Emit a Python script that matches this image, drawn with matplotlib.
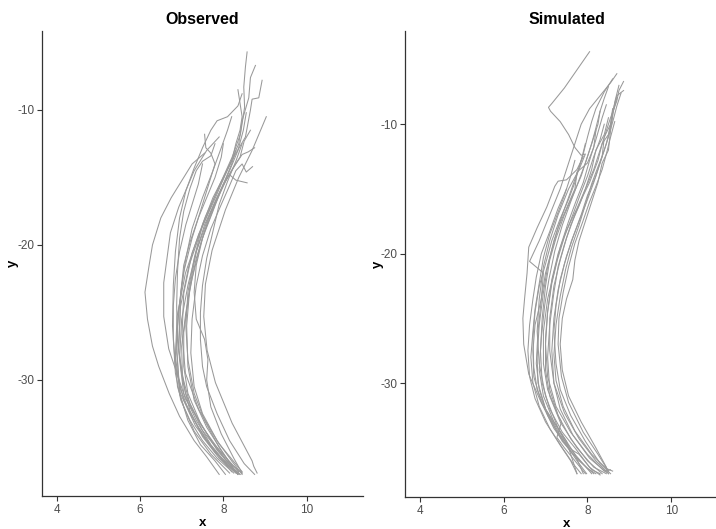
import numpy as np
from matplotlib import pyplot as plt

plt.rcParams['font.family'] = ['Liberation Sans', 'DejaVu Sans']
plt.rcParams['axes.unicode_minus'] = False

# observed tracks, one list per track (x, y)
obs_x = [
    [7.55, 7.25, 7.05, 6.75, 6.5, 6.3, 6.22, 6.12, 6.18, 6.3, 6.45, 6.7, 6.95, 7.3, 7.6, 7.9],
    [7.9, 7.6, 7.3, 6.93, 6.73, 6.57, 6.57, 6.69, 7.09, 7.73, 8.37],
    [9.03, 8.69, 8.37, 8.05, 7.73, 7.57, 7.53, 7.61, 7.81, 8.21, 8.69, 8.73, 8.81],
    [8.57, 8.53, 8.49, 8.51, 8.41, 8.21, 7.89, 7.49, 7.17, 6.97, 6.93, 7.09, 7.49, 8.05, 8.45],
    [8.77, 8.65, 8.61, 8.45, 8.37, 8.13, 7.81, 7.41, 7.09, 6.89, 6.85, 6.97, 7.33, 7.81, 8.37],
    [8.93, 8.85, 8.69, 8.65, 8.53, 8.21, 7.93, 7.57, 7.25, 7.05, 7.01, 7.09, 7.41, 7.89, 8.45],
    [7.55, 7.58, 7.7, 7.8, 7.65, 7.45, 7.25, 7.05, 6.92, 6.88, 6.95, 7.2, 7.6, 8.0, 8.35],
    [8.45, 8.35, 8.1, 7.85, 7.7, 7.5, 7.3, 7.1, 6.95, 6.85, 6.8, 6.78, 6.85, 7.05, 7.4, 7.8, 8.2],
    [8.75, 8.6, 8.45, 8.3, 8.1, 7.85, 7.6, 7.35, 7.2, 7.12, 7.15, 7.3, 7.6, 7.95, 8.3],
    [8.57, 8.3, 8.15, 8.0, 7.8, 7.55, 7.35, 7.15, 7.0, 6.95, 7.05, 7.35, 7.7, 8.1, 8.4],
    [7.8, 7.7, 7.5, 7.35, 7.2, 7.05, 6.95, 6.9, 6.88, 6.9, 7.0, 7.2, 7.5, 7.85, 8.2, 8.35],
    [8.3, 8.2, 8.0, 7.75, 7.5, 7.35, 7.3, 7.35, 7.55, 7.63, 7.6, 7.7, 7.95, 8.25, 8.45],
    [8.55, 8.48, 8.35, 8.15, 7.9, 7.65, 7.45, 7.25, 7.1, 7.0, 7.02, 7.2, 7.5, 7.9, 8.3],
    [8.65, 8.5, 8.4, 8.25, 8.05, 7.8, 7.55, 7.35, 7.18, 7.05, 7.05, 7.15, 7.45, 7.85, 8.35],
    [8.0, 7.95, 7.8, 7.6, 7.4, 7.2, 7.05, 6.98, 6.95, 6.9, 6.95, 7.15, 7.45, 7.8, 8.05],
    [8.2, 8.1, 7.95, 7.75, 7.5, 7.25, 7.1, 6.98, 6.9, 6.85, 6.9, 7.05, 7.3, 7.7, 8.15],
    [8.45, 8.3, 8.1, 7.9, 7.75, 7.6, 7.5, 7.45, 7.45, 7.5, 7.6, 7.85, 8.15, 8.5, 8.75],
    [8.35, 8.4, 8.45, 8.4, 8.3, 8.2, 8.0, 7.75, 7.5, 7.3, 7.15, 7.1, 7.15, 7.3, 7.55, 7.9, 8.25, 8.4],
    [8.7, 8.55, 8.45, 8.3, 8.15, 7.95, 7.7, 7.5, 7.35, 7.25, 7.22, 7.3, 7.5, 7.85, 8.2, 8.45],
    [7.5, 7.4, 7.25, 7.1, 6.95, 6.85, 6.8, 6.8, 6.85, 6.98, 7.2, 7.5, 7.85, 8.25],
]
obs_y = [
    [-13.2, -14.0, -15.0, -16.5, -18.0, -20.0, -21.5, -23.5, -25.5, -27.5, -29.0, -31.0, -32.7, -34.5, -35.7, -37.0],
    [-12.0, -13.0, -14.5, -17.2, -19.1, -22.8, -25.3, -27.7, -31.4, -34.6, -36.8],
    [-10.5, -13.0, -15.0, -17.4, -20.4, -22.9, -25.3, -27.8, -30.2, -33.2, -36.0, -36.4, -36.9],
    [-5.7, -6.8, -8.3, -9.8, -11.8, -13.5, -15.7, -18.7, -21.6, -24.6, -27.8, -31.0, -33.7, -35.9, -36.9],
    [-6.7, -7.6, -9.1, -10.8, -12.5, -14.2, -16.5, -19.2, -22.1, -25.3, -28.3, -31.0, -33.4, -35.4, -36.9],
    [-7.8, -9.1, -9.2, -10.0, -12.0, -13.7, -15.5, -17.9, -20.6, -23.6, -26.6, -29.5, -32.2, -34.7, -36.8],
    [-11.8, -12.8, -13.2, -14.0, -15.5, -17.5, -19.5, -22.0, -25.0, -28.0, -30.5, -32.5, -34.5, -36.0, -37.0],
    [-8.8, -9.7, -10.5, -10.8, -11.5, -12.8, -14.3, -16.0, -18.0, -20.5, -23.0, -26.0, -29.0, -31.5, -33.5, -35.3, -36.8],
    [-12.8, -13.1, -13.3, -14.0, -15.0, -16.5, -18.3, -20.5, -23.0, -26.0, -29.0, -31.5, -33.5, -35.2, -36.8],
    [-15.4, -15.2, -14.8, -15.5, -16.8, -18.5, -20.5, -23.0, -25.5, -28.5, -31.0, -33.0, -34.8, -36.3, -37.0],
    [-12.5, -13.4, -13.8, -14.5, -15.8, -17.5, -19.5, -22.0, -24.5, -27.0, -29.5, -31.8, -33.5, -35.0, -36.5, -37.0],
    [-13.0, -14.0, -15.5, -17.5, -19.5, -21.5, -23.5, -25.5, -27.0, -28.5, -30.0, -32.0, -34.0, -35.8, -36.9],
    [-10.2, -11.5, -13.0, -14.5, -16.2, -18.0, -20.0, -22.5, -25.0, -27.5, -30.0, -32.3, -34.2, -35.8, -36.9],
    [-11.5, -12.3, -13.5, -14.2, -15.3, -17.0, -19.0, -21.0, -23.5, -26.5, -29.0, -31.0, -33.2, -35.2, -37.0],
    [-12.5, -13.5, -15.0, -16.5, -18.0, -19.8, -21.5, -23.5, -26.0, -28.5, -31.0, -33.0, -34.8, -36.0, -37.0],
    [-10.5, -11.5, -12.8, -14.5, -16.5, -18.8, -21.0, -23.5, -26.0, -28.5, -30.5, -32.0, -33.8, -35.5, -36.9],
    [-12.5, -13.8, -15.3, -17.0, -19.0, -21.0, -23.0, -25.0, -27.0, -29.0, -30.5, -32.5, -34.5, -36.2, -37.0],
    [-8.5, -9.5, -10.5, -11.5, -12.5, -13.8, -15.0, -16.5, -18.5, -21.0, -23.5, -26.0, -28.5, -31.0, -33.0, -35.0, -36.6, -37.0],
    [-14.2, -14.6, -14.0, -14.5, -15.6, -17.0, -18.8, -20.8, -23.0, -25.5, -28.0, -30.5, -32.5, -34.5, -36.0, -37.0],
    [-14.0, -15.5, -17.0, -18.5, -20.5, -22.5, -24.5, -27.0, -29.5, -31.5, -33.0, -34.5, -35.8, -36.9],
]

# simulated tracks
sim_x = [
    [8.05, 7.75, 7.45, 7.15, 7.07, 7.12, 7.35, 7.55, 7.7, 7.85, 7.95, 7.8, 7.55, 7.3, 7.1, 6.95, 6.85, 6.8, 6.85, 7.0, 7.3, 7.7, 8.1],
    [7.9, 7.75, 7.5, 7.3, 7.22, 7.03, 6.8, 6.6, 6.56, 6.5, 6.46, 6.48, 6.6, 6.87, 7.27, 7.75, 7.98],
    [8.7, 8.55, 8.3, 8.05, 7.85, 7.7, 7.55, 7.35, 7.1, 6.85, 6.62, 6.95, 6.9, 6.75, 6.7, 6.72, 6.9, 7.2, 7.6, 8.0, 8.2],
    [8.86, 8.75, 8.7, 8.55, 8.45, 8.3, 8.15, 7.95, 7.75, 7.5, 7.3, 7.15, 7.05, 7.0, 7.05, 7.25, 7.6, 8.0, 8.4, 8.55],
    [8.86, 8.7, 8.6, 8.55, 8.5, 8.35, 8.25, 8.05, 7.9, 7.7, 7.5, 7.35, 7.2, 7.1, 7.1, 7.2, 7.45, 7.8, 8.2, 8.5],
    [8.5, 8.4, 8.3, 8.25, 8.15, 8.0, 7.85, 7.65, 7.45, 7.25, 7.1, 7.0, 6.92, 6.88, 6.92, 7.1, 7.4, 7.7, 8.05, 8.3],
    [8.6, 8.4, 8.2, 8.1, 8.0, 7.9, 7.75, 7.6, 7.4, 7.2, 7.05, 6.95, 6.85, 6.8, 6.82, 7.0, 7.35, 7.7, 7.9],
    [8.7, 8.6, 8.55, 8.5, 8.35, 8.25, 8.1, 7.95, 7.8, 7.7, 7.65, 7.5, 7.4, 7.35, 7.4, 7.55, 7.85, 8.2, 8.45, 8.5],
    [8.3, 8.2, 8.1, 7.95, 7.8, 7.6, 7.4, 7.22, 7.08, 6.98, 6.9, 6.85, 6.95, 7.2, 7.5, 7.55, 7.8, 8.1, 8.3],
    [8.45, 8.35, 8.2, 8.05, 7.9, 7.72, 7.55, 7.35, 7.2, 7.05, 6.95, 6.95, 7.05, 7.3, 7.38, 7.27, 7.45, 7.7, 7.95],
    [8.75, 8.65, 8.58, 8.45, 8.3, 8.15, 7.98, 7.8, 7.62, 7.45, 7.3, 7.2, 7.15, 7.2, 7.35, 7.65, 8.05, 8.45],
    [7.5, 7.3, 7.1, 6.9, 6.78, 6.7, 6.62, 6.58, 6.62, 6.75, 7.0, 7.35, 7.6, 7.75],
    [8.5, 8.4, 8.2, 8.1, 7.95, 7.8, 7.6, 7.45, 7.3, 7.2, 7.1, 7.05, 7.1, 7.3, 7.6, 8.0, 8.35],
    [8.2, 8.15, 8.0, 7.75, 7.7, 7.5, 7.3, 7.15, 7.0, 6.9, 6.82, 6.78, 6.85, 7.05, 7.4, 7.8, 8.15],
    [8.6, 8.55, 8.4, 8.35, 8.2, 8.0, 7.85, 7.68, 7.5, 7.35, 7.25, 7.2, 7.25, 7.35, 7.6, 7.95, 8.3, 8.55],
    [7.95, 7.85, 7.7, 7.55, 7.35, 7.15, 7.0, 6.85, 6.75, 6.7, 6.72, 6.8, 7.0, 7.3, 7.55, 7.75],
    [8.4, 8.3, 8.15, 8.0, 7.82, 7.65, 7.45, 7.28, 7.15, 7.05, 7.0, 7.0, 7.1, 7.35, 7.75, 8.15, 8.45],
    [8.65, 8.55, 8.45, 8.35, 8.2, 8.05, 7.88, 7.7, 7.55, 7.42, 7.32, 7.3, 7.38, 7.55, 7.9, 8.25, 8.5],
    [7.7, 7.6, 7.45, 7.3, 7.1, 6.95, 6.85, 6.75, 6.7, 6.65, 6.7, 6.85, 7.1, 7.4, 7.65, 7.85],
    [8.8, 8.7, 8.62, 8.5, 8.38, 8.25, 8.1, 7.95, 7.8, 7.62, 7.48, 7.35, 7.25, 7.2, 7.25, 7.42, 7.7, 8.1, 8.45, 8.6],
]
sim_y = [
    [-4.4, -5.8, -7.2, -8.4, -8.7, -9.0, -9.8, -10.8, -11.8, -12.4, -12.3, -13.5, -15.0, -17.0, -19.0, -21.0, -23.5, -26.0, -28.5, -31.0, -33.5, -35.5, -37.0],
    [-12.5, -13.5, -14.3, -14.4, -14.8, -16.4, -18.0, -19.5, -21.5, -23.5, -25.0, -27.0, -29.3, -31.3, -33.7, -36.0, -37.0],
    [-6.1, -6.8, -7.8, -8.8, -10.0, -11.5, -13.0, -15.0, -17.0, -19.0, -20.6, -21.5, -23.5, -25.5, -27.5, -29.5, -31.5, -33.5, -35.3, -36.6, -37.0],
    [-6.7, -7.4, -8.2, -9.5, -10.5, -12.0, -13.5, -15.0, -16.5, -18.2, -20.0, -22.0, -24.5, -27.0, -29.5, -31.8, -33.8, -35.5, -36.8, -36.7],
    [-7.4, -7.8, -9.0, -10.0, -10.8, -11.5, -12.8, -14.5, -15.5, -17.0, -18.8, -20.5, -22.5, -25.0, -27.5, -30.0, -32.3, -34.3, -36.0, -37.0],
    [-7.1, -8.0, -9.0, -10.0, -11.0, -12.5, -14.0, -15.5, -17.0, -18.8, -20.5, -22.5, -25.0, -27.5, -30.0, -32.0, -33.8, -35.0, -36.5, -37.1],
    [-6.5, -7.5, -8.8, -9.8, -11.0, -12.3, -13.8, -15.2, -17.0, -19.0, -21.0, -23.0, -25.5, -28.0, -30.0, -32.0, -34.0, -35.5, -37.0],
    [-8.0, -9.2, -10.5, -12.0, -13.0, -14.5, -16.0, -17.5, -19.0, -20.5, -22.0, -23.5, -25.0, -27.0, -29.0, -31.0, -33.0, -35.0, -36.5, -37.0],
    [-9.0, -10.3, -11.5, -13.0, -14.3, -16.0, -17.8, -19.8, -22.0, -24.0, -26.5, -29.0, -31.0, -33.0, -34.5, -35.0, -35.5, -36.7, -37.0],
    [-8.5, -9.5, -11.2, -12.8, -14.5, -16.0, -17.5, -19.5, -21.5, -23.5, -26.0, -28.5, -30.5, -32.5, -33.0, -34.2, -35.0, -36.0, -37.0],
    [-7.0, -8.3, -9.8, -11.5, -13.0, -14.5, -16.0, -17.5, -19.0, -20.8, -22.8, -25.0, -27.5, -30.0, -32.0, -34.0, -35.8, -36.9],
    [-15.0, -16.5, -18.3, -20.0, -21.8, -23.5, -25.5, -27.5, -29.5, -31.2, -33.0, -34.8, -36.0, -37.0],
    [-9.5, -10.8, -12.0, -13.5, -15.0, -16.3, -17.8, -19.3, -21.0, -23.0, -25.5, -28.0, -30.5, -32.5, -34.3, -36.0, -37.0],
    [-10.5, -11.8, -13.0, -13.7, -15.0, -16.5, -18.0, -19.7, -21.5, -23.5, -26.0, -28.5, -30.5, -32.5, -34.5, -36.0, -37.0],
    [-8.8, -10.0, -11.0, -12.5, -14.0, -15.5, -17.0, -18.5, -20.2, -22.0, -24.0, -26.0, -28.5, -30.5, -32.5, -34.5, -36.2, -37.0],
    [-11.5, -12.8, -14.5, -15.8, -17.3, -19.0, -20.8, -22.5, -24.5, -26.5, -28.8, -30.5, -32.0, -33.5, -35.0, -37.0],
    [-10.0, -11.2, -12.5, -14.0, -15.5, -17.0, -18.7, -20.5, -22.3, -24.5, -26.5, -29.0, -31.0, -33.0, -35.0, -36.5, -37.0],
    [-9.8, -11.0, -12.3, -13.5, -14.8, -16.0, -17.6, -19.2, -21.0, -23.0, -25.0, -27.0, -29.5, -31.5, -33.8, -35.5, -36.8],
    [-12.8, -14.0, -15.5, -16.8, -18.5, -20.3, -22.3, -24.3, -26.0, -28.0, -30.0, -31.8, -33.5, -35.0, -36.2, -37.0],
    [-7.6, -8.6, -9.6, -11.0, -12.2, -13.3, -14.6, -16.2, -17.8, -19.5, -21.2, -23.3, -25.5, -27.8, -29.8, -31.8, -33.7, -35.5, -36.6, -36.8],
]

W, H = 716, 529
fig = plt.figure(figsize=(W / 100, H / 100), dpi=100)

ax1 = fig.add_axes([42 / W, (H - 496) / H, 321 / W, 465 / H])
ax2 = fig.add_axes([405 / W, (H - 497) / H, 323 / W, 466 / H])

def style(ax, title, ylim, ylab_x):
    ax.set_xlim(3.65, 11.35)
    ax.set_ylim(*ylim)
    ax.set_xticks([4, 6, 8, 10])
    ax.set_yticks([-10, -20, -30])
    for s in ['top', 'right']:
        ax.spines[s].set_visible(False)
    for s in ['left', 'bottom']:
        ax.spines[s].set_color('#333333')
        ax.spines[s].set_linewidth(0.9)
    ax.tick_params(length=3.5, width=0.8, color='#333333', labelcolor='#4d4d4d',
                   labelsize=8.5, pad=2)
    ax.set_title(title, fontsize=11.5, fontweight='bold', pad=5)
    ax.set_xlabel('x', fontsize=9.5, fontweight='bold')
    ax.set_ylabel('y', fontsize=9.5, fontweight='bold')
    ax.xaxis.set_label_coords(0.5, -0.046)
    ax.yaxis.set_label_coords(ylab_x, 0.5)

for xs, ys in zip(obs_x, obs_y):
    ax1.plot(xs, ys, color='#999999', lw=0.75)
for xs, ys in zip(sim_x, sim_y):
    ax2.plot(xs, ys, color='#999999', lw=0.75)

style(ax1, 'Observed', (-38.6, -4.15), -0.072)
style(ax2, 'Simulated', (-38.8, -2.8), -0.066)

fig.savefig('out.png', dpi=100)
